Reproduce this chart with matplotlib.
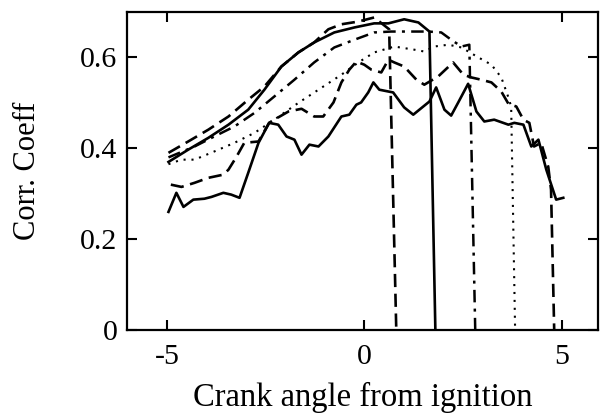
import matplotlib
matplotlib.use("Agg")
import matplotlib.pyplot as plt

# crank angle / correlation coefficient
top_dash_x = [-4.96, -4.46, -3.95, -3.44, -2.94, -2.53, -2.10, -1.67, -1.27, -0.91,
              -0.58, -0.15, 0.25, 0.63, 0.81]
top_dash_y = [0.39, 0.415, 0.441, 0.47, 0.507, 0.536, 0.58, 0.611, 0.633, 0.662,
              0.673, 0.679, 0.688, 0.662, 0.0]

top_solid_x = [-4.96, -4.46, -3.95, -3.44, -2.94, -2.53, -2.10, -1.67, -1.27, -0.76,
               -0.25, 0.25, 0.61, 1.01, 1.37, 1.65, 1.80]
top_solid_y = [0.37, 0.397, 0.423, 0.452, 0.485, 0.529, 0.58, 0.611, 0.633, 0.655,
               0.666, 0.675, 0.675, 0.684, 0.677, 0.657, 0.0]

dashdot_x = [-4.96, -4.30, -3.80, -3.29, -2.78, -2.28, -1.77, -1.27, -0.76, -0.25,
             0.25, 0.68, 1.19, 1.62, 1.95, 2.20, 2.46, 2.66, 2.81]
dashdot_y = [0.38, 0.404, 0.426, 0.448, 0.478, 0.514, 0.551, 0.589, 0.622, 0.639,
             0.655, 0.657, 0.657, 0.657, 0.655, 0.639, 0.624, 0.628, 0.0]

dotted_x = [-4.96, -4.63, -4.30, -3.80, -3.29, -2.78, -2.28, -1.67, -1.16, -0.58,
            -0.15, 0.25, 0.76, 1.27, 1.52, 1.77, 2.13, 2.46, 2.89, 3.22,
            3.47, 3.65, 3.72, 3.82]
dotted_y = [0.365, 0.375, 0.375, 0.393, 0.412, 0.434, 0.463, 0.50, 0.529, 0.562,
            0.589, 0.611, 0.624, 0.617, 0.613, 0.624, 0.628, 0.622, 0.60, 0.584,
            0.556, 0.512, 0.492, 0.0]

low_dash_x = [-4.90, -4.63, -4.30, -3.95, -3.57, -3.44, -3.24, -3.04, -2.68, -2.41,
              -2.28, -1.92, -1.59, -1.27, -1.04, -0.78, -0.58, -0.38, -0.20, 0.0,
              0.18, 0.43, 0.61, 0.76, 1.01, 1.32, 1.52, 1.87, 2.25, 2.51,
              2.71, 2.96, 3.22, 3.47, 3.65, 3.85, 4.03, 4.18, 4.30, 4.48,
              4.66, 4.73, 4.81]
low_dash_y = [0.32, 0.315, 0.324, 0.335, 0.342, 0.353, 0.381, 0.412, 0.415, 0.456,
              0.463, 0.481, 0.487, 0.470, 0.470, 0.501, 0.545, 0.573, 0.591, 0.584,
              0.573, 0.567, 0.595, 0.589, 0.580, 0.551, 0.540, 0.558, 0.589, 0.562,
              0.556, 0.551, 0.545, 0.525, 0.498, 0.492, 0.463, 0.456, 0.404, 0.412,
              0.359, 0.309, 0.0]

low_solid_x = [-4.96, -4.76, -4.58, -4.33, -4.05, -3.87, -3.57, -3.37, -3.16, -2.94,
               -2.68, -2.41, -2.18, -1.97, -1.77, -1.59, -1.39, -1.16, -0.91, -0.58,
               -0.38, -0.20, -0.08, 0.10, 0.23, 0.38, 0.61, 0.73, 1.01, 1.24,
               1.65, 1.82, 2.03, 2.20, 2.38, 2.63, 2.84, 3.04, 3.29, 3.65,
               3.80, 4.03, 4.23, 4.41, 4.61, 4.86, 5.04]
low_solid_y = [0.260, 0.302, 0.271, 0.287, 0.289, 0.293, 0.302, 0.298, 0.291, 0.346,
               0.412, 0.456, 0.452, 0.426, 0.419, 0.386, 0.408, 0.404, 0.426, 0.470,
               0.474, 0.496, 0.501, 0.523, 0.545, 0.529, 0.525, 0.523, 0.490, 0.474,
               0.503, 0.534, 0.485, 0.472, 0.501, 0.542, 0.481, 0.459, 0.463, 0.452,
               0.456, 0.452, 0.404, 0.419, 0.353, 0.287, 0.291]

xticks = [-5, 0, 5]
yticks = [0, 0.2, 0.4, 0.6]
ytick_labels = ["0", "0.2", "0.4", "0.6"]

plt.rcParams["font.family"] = ["Liberation Serif", "DejaVu Serif"]

fig = plt.figure(figsize=(6, 4.17), dpi=100)
ax = fig.add_axes([0.2117, 0.2086, 0.785, 0.7626])

ax.plot(top_dash_x, top_dash_y, color="black", lw=1.9, dashes=(5, 2.5))
ax.plot(top_solid_x, top_solid_y, color="black", lw=1.9)
ax.plot(dashdot_x, dashdot_y, color="black", lw=1.8, dashes=(5, 2.5, 1.2, 2.5))
ax.plot(dotted_x, dotted_y, color="black", lw=1.5, dashes=(1, 2.8))
ax.plot(low_dash_x, low_dash_y, color="black", lw=1.9, dashes=(5, 2.5))
ax.plot(low_solid_x, low_solid_y, color="black", lw=1.9)

ax.set_xlim(-6.01, 5.92)
ax.set_ylim(0, 0.7)
ax.set_xticks(xticks)
ax.set_xticklabels([str(t) for t in xticks])
ax.set_yticks(yticks)
ax.set_yticklabels(ytick_labels)
ax.tick_params(direction="in", length=7, width=1.5, top=True, right=True,
               labelsize=21.5, pad=7)
ax.tick_params(axis="x", pad=10)
for sp in ax.spines.values():
    sp.set_linewidth(1.6)

ax.set_xlabel("Crank angle from ignition", fontsize=23.5, labelpad=9)
ax.set_ylabel("Corr. Coeff", fontsize=22, labelpad=27)

fig.savefig("out.png", dpi=100)
